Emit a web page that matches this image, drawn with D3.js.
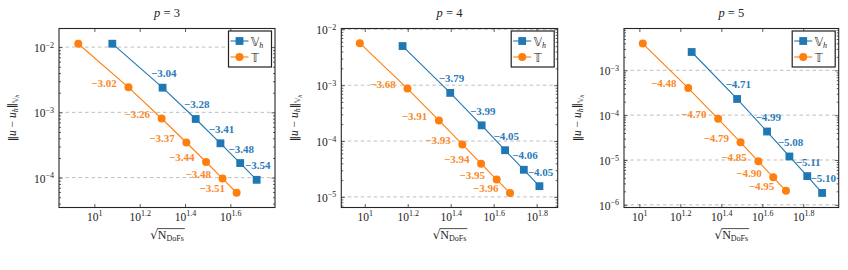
<!DOCTYPE html>
<html><head><meta charset="utf-8">
<script src="https://cdn.jsdelivr.net/npm/d3@7/dist/d3.min.js"></script>
<style>
body{margin:0;background:#fff}
svg{display:block}
text{font-family:"Liberation Serif","Times New Roman",serif;fill:#222}
</style>
</head><body>
<svg id="chart" width="848" height="270"></svg>
<script>
// ---------------- data ----------------
const degrees = [3, 4, 5];
const seriesNames = ["𝕍", "𝕋"];

// p = 3
const dofsV3 = [12, 20, 28, 36, 44, 52];
const errV3  = [1.127e-2, 2.388e-3, 7.91e-4, 3.357e-4, 1.671e-4, 9.25e-5];
const rateV3 = [-3.04, -3.28, -3.41, -3.48, -3.54];
const dofsT3 = [8.49, 14.14, 19.80, 25.46, 31.11, 36.77, 42.43];
const errT3  = [1.127e-2, 2.415e-3, 8.05e-4, 3.45e-4, 1.734e-4, 9.68e-5, 5.86e-5];
const rateT3 = [-3.02, -3.26, -3.37, -3.44, -3.48, -3.51];

// p = 4
const dofsV4 = [15, 25, 35, 45, 55, 65];
const errV4  = [5.02e-3, 7.28e-4, 1.91e-4, 6.85e-5, 3.06e-5, 1.556e-5];
const rateV4 = [-3.79, -3.99, -4.05, -4.06, -4.05];
const dofsT4 = [9.49, 15.81, 22.14, 28.46, 34.79, 41.11, 47.43];
const errT4  = [5.65e-3, 8.69e-4, 2.339e-4, 8.69e-5, 3.94e-5, 2.046e-5, 1.172e-5];
const rateT4 = [-3.68, -3.91, -3.93, -3.94, -3.95, -3.96];

// p = 5
const dofsV5 = [18, 30, 42, 54, 66, 78];
const errV5  = [2.564e-3, 2.296e-4, 4.315e-5, 1.197e-5, 4.365e-6, 1.837e-6];
const rateV5 = [-4.71, -4.99, -5.08, -5.11, -5.10];
const dofsT5 = [10.39, 17.32, 24.25, 31.18, 38.11, 45.03, 51.96];
const errT5  = [3.954e-3, 4.018e-4, 8.28e-5, 2.483e-5, 9.33e-6, 4.11e-6, 2.046e-6];
const rateT5 = [-4.48, -4.70, -4.79, -4.85, -4.90, -4.95];

// tick labels (exponents of 10)
const xTickExps = [[1, 1.2, 1.4, 1.6], [1, 1.2, 1.4, 1.6, 1.8], [1, 1.2, 1.4, 1.6, 1.8]];
const yTickExps = [[-2, -3, -4], [-2, -3, -4, -5], [-3, -4, -5, -6]];

// ---------------- layout ----------------
const panels = [
  {p: degrees[0], V: [dofsV3, errV3, rateV3], T: [dofsT3, errT3, rateT3]},
  {p: degrees[1], V: [dofsV4, errV4, rateV4], T: [dofsT4, errT4, rateT4]},
  {p: degrees[2], V: [dofsV5, errV5, rateV5], T: [dofsT5, errT5, rateT5]}
];
const layout = [
  {left: 59,    right: 275,   xd: [0.844, 1.797], yd: [-4.458, -1.715]},
  {left: 341.3, right: 557.7, xd: [0.891, 1.898], yd: [-5.19, -1.985]},
  {left: 624,   right: 838.7, xd: [0.925, 1.973], yd: [-6.06, -2.067]}
];
const TOP = 28.5, BOTTOM = 207.5;
const BLUE = "#1f77b4", ORANGE = "#ff7f0e";
const MATHFONT = '"DejaVu Sans","DejaVu Serif","Noto Sans",sans-serif';

const svg = d3.select("#chart");
const fmtRate = r => "−" + Math.abs(r).toFixed(2);
const expStr = e => (e < 0 ? "−" : "") + String(Math.abs(e));

function setPow(sel, fs, supFs) {
  sel.each(function(d) {
    const t = d3.select(this);
    const e = Math.round(Math.log10(d) * 10) / 10;
    t.text(null);
    t.append("tspan").attr("font-size", fs).text("10");
    t.append("tspan").attr("font-size", supFs).attr("dy", "-0.55em").text(expStr(e));
  });
}

panels.forEach((pn, k) => {
  const L = layout[k];
  const x = d3.scaleLog().domain(L.xd.map(v => Math.pow(10, v))).range([L.left, L.right]);
  const y = d3.scaleLog().domain(L.yd.map(v => Math.pow(10, v))).range([BOTTOM, TOP]);
  const g = svg.append("g");

  // grid
  const yMajors = yTickExps[k].map(e => Math.pow(10, e));
  g.selectAll(".grid").data(yMajors).enter().append("line")
    .attr("x1", L.left).attr("x2", L.right)
    .attr("y1", d => y(d)).attr("y2", d => y(d))
    .attr("stroke", "#b8b8b8").attr("stroke-width", 0.9).attr("stroke-dasharray", "3.5,3");

  // minor y ticks
  const minors = [];
  for (let e = Math.floor(L.yd[0]); e <= Math.ceil(L.yd[1]); e++)
    for (let m = 2; m <= 9; m++) {
      const v = m * Math.pow(10, e);
      if (Math.log10(v) > L.yd[0] && Math.log10(v) < L.yd[1]) minors.push(v);
    }

  const xMajors = xTickExps[k].map(e => Math.pow(10, e));

  // axes
  const axB = g.append("g").attr("transform", `translate(0,${BOTTOM})`)
    .call(d3.axisBottom(x).tickValues(xMajors).tickSize(-3.5).tickPadding(6).tickFormat(d => d));
  const axT = g.append("g").attr("transform", `translate(0,${TOP})`)
    .call(d3.axisTop(x).tickValues(xMajors).tickSize(-3.5).tickFormat(""));
  const axL = g.append("g").attr("transform", `translate(${L.left},0)`)
    .call(d3.axisLeft(y).tickValues(yMajors).tickSize(-3.5).tickPadding(5).tickFormat(d => d));
  const axR = g.append("g").attr("transform", `translate(${L.right},0)`)
    .call(d3.axisRight(y).tickValues(yMajors).tickSize(-3.5).tickFormat(""));
  const axLm = g.append("g").attr("transform", `translate(${L.left},0)`)
    .call(d3.axisLeft(y).tickValues(minors).tickSize(-2).tickFormat(""));
  const axRm = g.append("g").attr("transform", `translate(${L.right},0)`)
    .call(d3.axisRight(y).tickValues(minors).tickSize(-2).tickFormat(""));
  [axB, axT, axL, axR, axLm, axRm].forEach(a => {
    a.attr("font-family", null);
    a.select(".domain").remove();
    a.selectAll("line").attr("stroke", "#333").attr("stroke-width", 0.8);
    a.selectAll("text").attr("fill", "#222").style("font-family", '"Liberation Serif",serif');
  });
  setPow(axB.selectAll("text"), 11.5, 8);
  setPow(axL.selectAll("text"), 11.5, 8);
  axL.selectAll("text").attr("dy", "0.45em");

  // frame
  g.append("rect").attr("x", L.left).attr("y", TOP)
    .attr("width", L.right - L.left).attr("height", BOTTOM - TOP)
    .attr("fill", "none").attr("stroke", "#262626").attr("stroke-width", 1.1);

  // series
  const line = d3.line().x(d => x(d[0])).y(d => y(d[1]));
  const drawSeries = (s, color, shape) => {
    const pts = s[0].map((v, i) => [v, s[1][i]]);
    g.append("path").datum(pts).attr("d", line)
      .attr("fill", "none").attr("stroke", color).attr("stroke-width", 1.1);
    if (shape === "square") {
      g.selectAll(null).data(pts).enter().append("rect")
        .attr("x", d => x(d[0]) - 3.9).attr("y", d => y(d[1]) - 3.9)
        .attr("width", 7.8).attr("height", 7.8).attr("fill", color);
    } else {
      g.selectAll(null).data(pts).enter().append("circle")
        .attr("cx", d => x(d[0])).attr("cy", d => y(d[1])).attr("r", 4).attr("fill", color);
    }
    return pts;
  };
  const ptsV = drawSeries(pn.V, BLUE, "square");
  const ptsT = drawSeries(pn.T, ORANGE, "circle");

  // rate labels
  g.selectAll(null).data(pn.V[2]).enter().append("text")
    .attr("x", (d, i) => x(ptsV[i + 1][0]) - 11.6)
    .attr("y", (d, i) => y(ptsV[i + 1][1]) - 14.4)
    .attr("dy", "0.35em").attr("text-anchor", "start")
    .attr("font-size", 11).attr("font-weight", "bold").style("fill", "#2b7bba")
    .text(fmtRate);
  g.selectAll(null).data(pn.T[2]).enter().append("text")
    .attr("x", (d, i) => x(ptsT[i + 1][0]) - 11.6)
    .attr("y", (d, i) => y(ptsT[i + 1][1]) - 4.5)
    .attr("dy", "0.35em").attr("text-anchor", "end")
    .attr("font-size", 11).attr("font-weight", "bold").style("fill", "#fa8a2a")
    .text(fmtRate);

  // legend
  const bw = 43, bh = 36;
  const bx = L.right - 3.5 - bw, by = TOP + 2.5;
  const lg = g.append("g");
  lg.append("rect").attr("x", bx).attr("y", by).attr("width", bw).attr("height", bh)
    .attr("fill", "#fff").attr("stroke", "#222").attr("stroke-width", 1.2);
  [[BLUE, "square", seriesNames[0], true], [ORANGE, "circle", seriesNames[1], false]].forEach((e, j) => {
    const ly = by + 10 + j * 16;
    lg.append("line").attr("x1", bx + 2).attr("x2", bx + 20).attr("y1", ly).attr("y2", ly)
      .attr("stroke", e[0]).attr("stroke-width", 1.1);
    if (e[1] === "square")
      lg.append("rect").attr("x", bx + 11 - 3.9).attr("y", ly - 3.9).attr("width", 7.8).attr("height", 7.8).attr("fill", e[0]);
    else
      lg.append("circle").attr("cx", bx + 11).attr("cy", ly).attr("r", 4).attr("fill", e[0]);
    const t = lg.append("text").attr("x", bx + 22.5).attr("y", ly).attr("dy", "0.38em").attr("font-size", 12);
    t.append("tspan").style("font-family", MATHFONT).attr("font-size", 11.5).text(e[2]);
    if (e[3]) t.append("tspan").attr("font-size", 8).attr("font-style", "italic").attr("dy", "0.3em").text("h");
  });

  // title
  const cx = (L.left + L.right) / 2;
  const tt = g.append("text").attr("x", cx).attr("y", 17).attr("text-anchor", "middle").attr("font-size", 12.5);
  tt.append("tspan").attr("font-style", "italic").text("p");
  tt.append("tspan").text(" = " + pn.p);

  // y label
  const yl = g.append("text").attr("transform", `translate(${L.left - 43},${(TOP + BOTTOM) / 2}) rotate(-90)`)
    .attr("text-anchor", "middle").attr("font-size", 11.5);
  yl.append("tspan").style("font-family", MATHFONT).attr("font-size", 10.5).text("‖");
  yl.append("tspan").attr("font-style", "italic").text("u");
  yl.append("tspan").text(" − ");
  yl.append("tspan").attr("font-style", "italic").text("u");
  yl.append("tspan").attr("font-style", "italic").attr("font-size", 8).attr("dy", "0.25em").text("h");
  yl.append("tspan").attr("dy", "-0.25em").style("font-family", MATHFONT).attr("font-size", 10.5).text("‖");
  yl.append("tspan").attr("font-size", 7.5).attr("dy", "0.35em").style("font-family", MATHFONT).text("𝕍");
  yl.append("tspan").attr("font-size", 6).attr("font-style", "italic").attr("dy", "0.2em").text("h");

  // x label
  const xl = g.append("text").attr("x", cx).attr("y", 238.5).attr("text-anchor", "middle").attr("font-size", 12);
  xl.append("tspan").style("font-family", MATHFONT).attr("font-size", 12).text("√");
  xl.append("tspan").text("N");
  xl.append("tspan").attr("font-size", 8).attr("dy", "0.25em").text("DoFs");
  const node = xl.node();
  const total = node.getComputedTextLength();
  const sq = node.getSubStringLength(0, 1);
  const x0 = cx - total / 2;
  g.append("line").attr("x1", x0 + sq - 0.8).attr("x2", x0 + total + 1)
    .attr("y1", 228.6).attr("y2", 228.6).attr("stroke", "#222").attr("stroke-width", 0.8);
});
</script>
</body></html>
